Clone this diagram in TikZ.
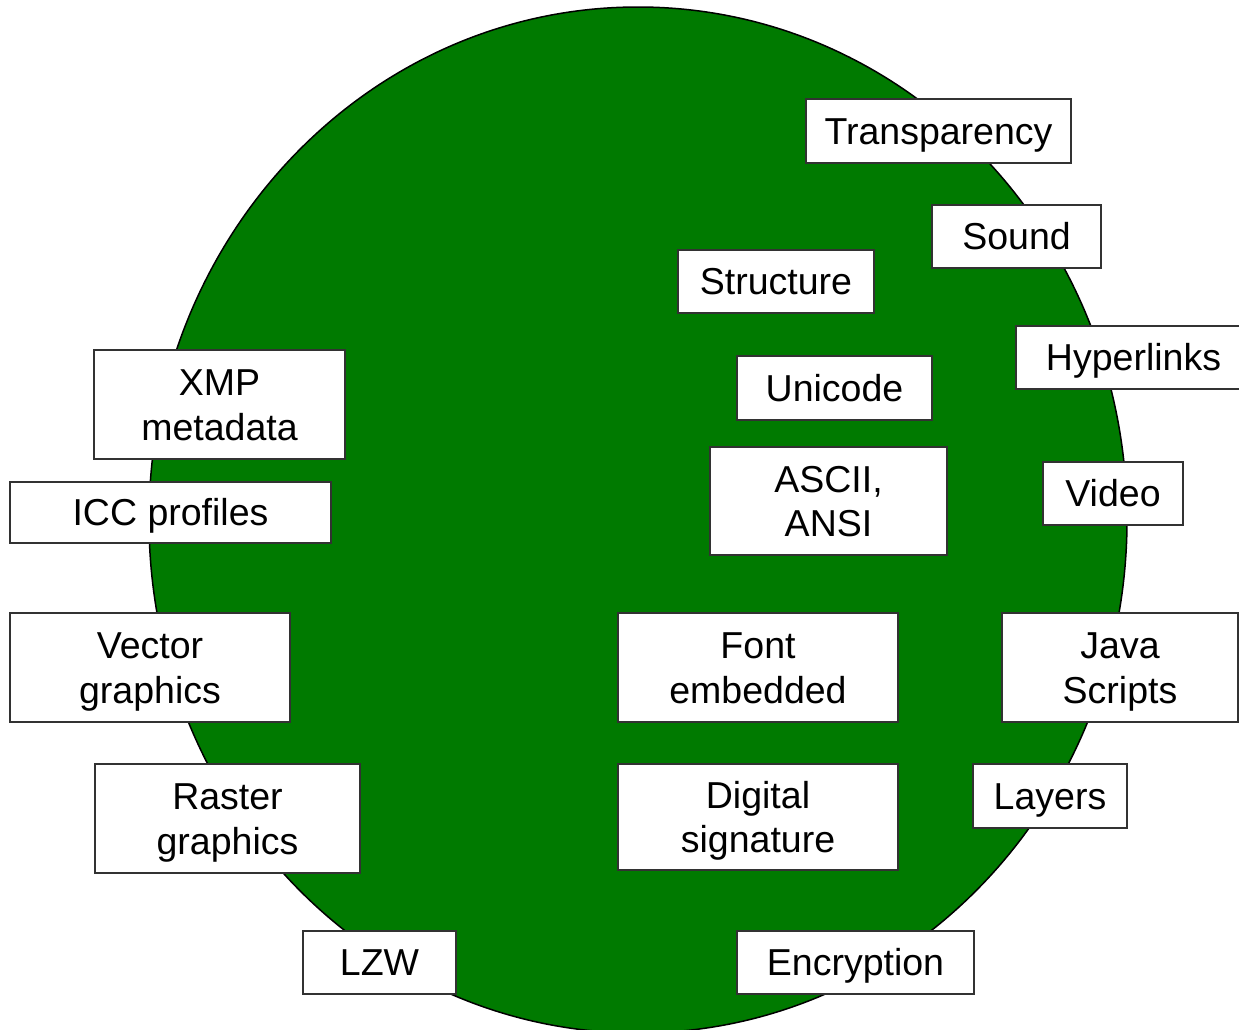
\documentclass[tikz,border=0pt]{standalone}
\usepackage{fontspec}
\setmainfont{Liberation Sans}
\definecolor{discgreen}{RGB}{0,122,0}
\definecolor{boxline}{RGB}{50,50,50}
\begin{document}
\begin{tikzpicture}[x=1pt,y=-1pt,
  box/.style={draw=boxline, fill=white, line width=1.2pt, inner sep=0pt,
    font=\fontsize{37.5}{44.5}\selectfont, align=center,
    text height=26.8pt, text depth=-3pt},
  twoline/.style={text height=71.3pt, text depth=-3pt}]
\useasboundingbox (0,0) rectangle (1239,1029);
\draw[fill=discgreen, draw=black, line width=1.5pt] (638,520) ellipse [x radius=489pt, y radius=513pt];
\node[box, minimum width=265pt, minimum height=64pt] (transp) at (938.5,131) {Transparency};
\node[box, minimum width=169pt, minimum height=63pt] (sound) at (1016.5,236.5) {Sound};
\node[box, minimum width=196pt, minimum height=63pt] (struct) at (776,281.5) {Structure};
\node[box, minimum width=235pt, minimum height=63pt] (hyper) at (1133.5,357.5) {Hyperlinks};
\node[box, minimum width=195pt, minimum height=64pt] (unicode) at (834.5,388) {Unicode};
\node[box, twoline, minimum width=251pt, minimum height=109pt] (xmp) at (219.5,404.5) {XMP\\metadata};
\node[box, minimum width=321pt, minimum height=61pt] (icc) at (170.5,512.5) {ICC profiles};
\node[box, twoline, minimum width=237pt, minimum height=108pt] (ascii) at (828.5,501) {ASCII,\\ANSI};
\node[box, minimum width=140pt, minimum height=63pt] (video) at (1113,493.5) {Video};
\node[box, twoline, minimum width=280pt, minimum height=109pt] (vector) at (150,667.5) {Vector\\graphics};
\node[box, twoline, minimum width=280pt, minimum height=109pt] (font) at (758,667.5) {Font\\embedded};
\node[box, twoline, minimum width=236pt, minimum height=109pt] (java) at (1120,667.5) {Java\\Scripts};
\node[box, twoline, minimum width=265pt, minimum height=109pt] (raster) at (227.5,818.5) {Raster\\graphics};
\node[box, twoline, minimum width=280pt, minimum height=106pt] (digital) at (758,817) {Digital\\signature};
\node[box, minimum width=154pt, minimum height=64pt] (layers) at (1050,796) {Layers};
\node[box, minimum width=153pt, minimum height=63pt] (lzw) at (379.5,962.5) {LZW};
\node[box, minimum width=237pt, minimum height=63pt] (encrypt) at (855.5,962.5) {Encryption};
\end{tikzpicture}
\end{document}
